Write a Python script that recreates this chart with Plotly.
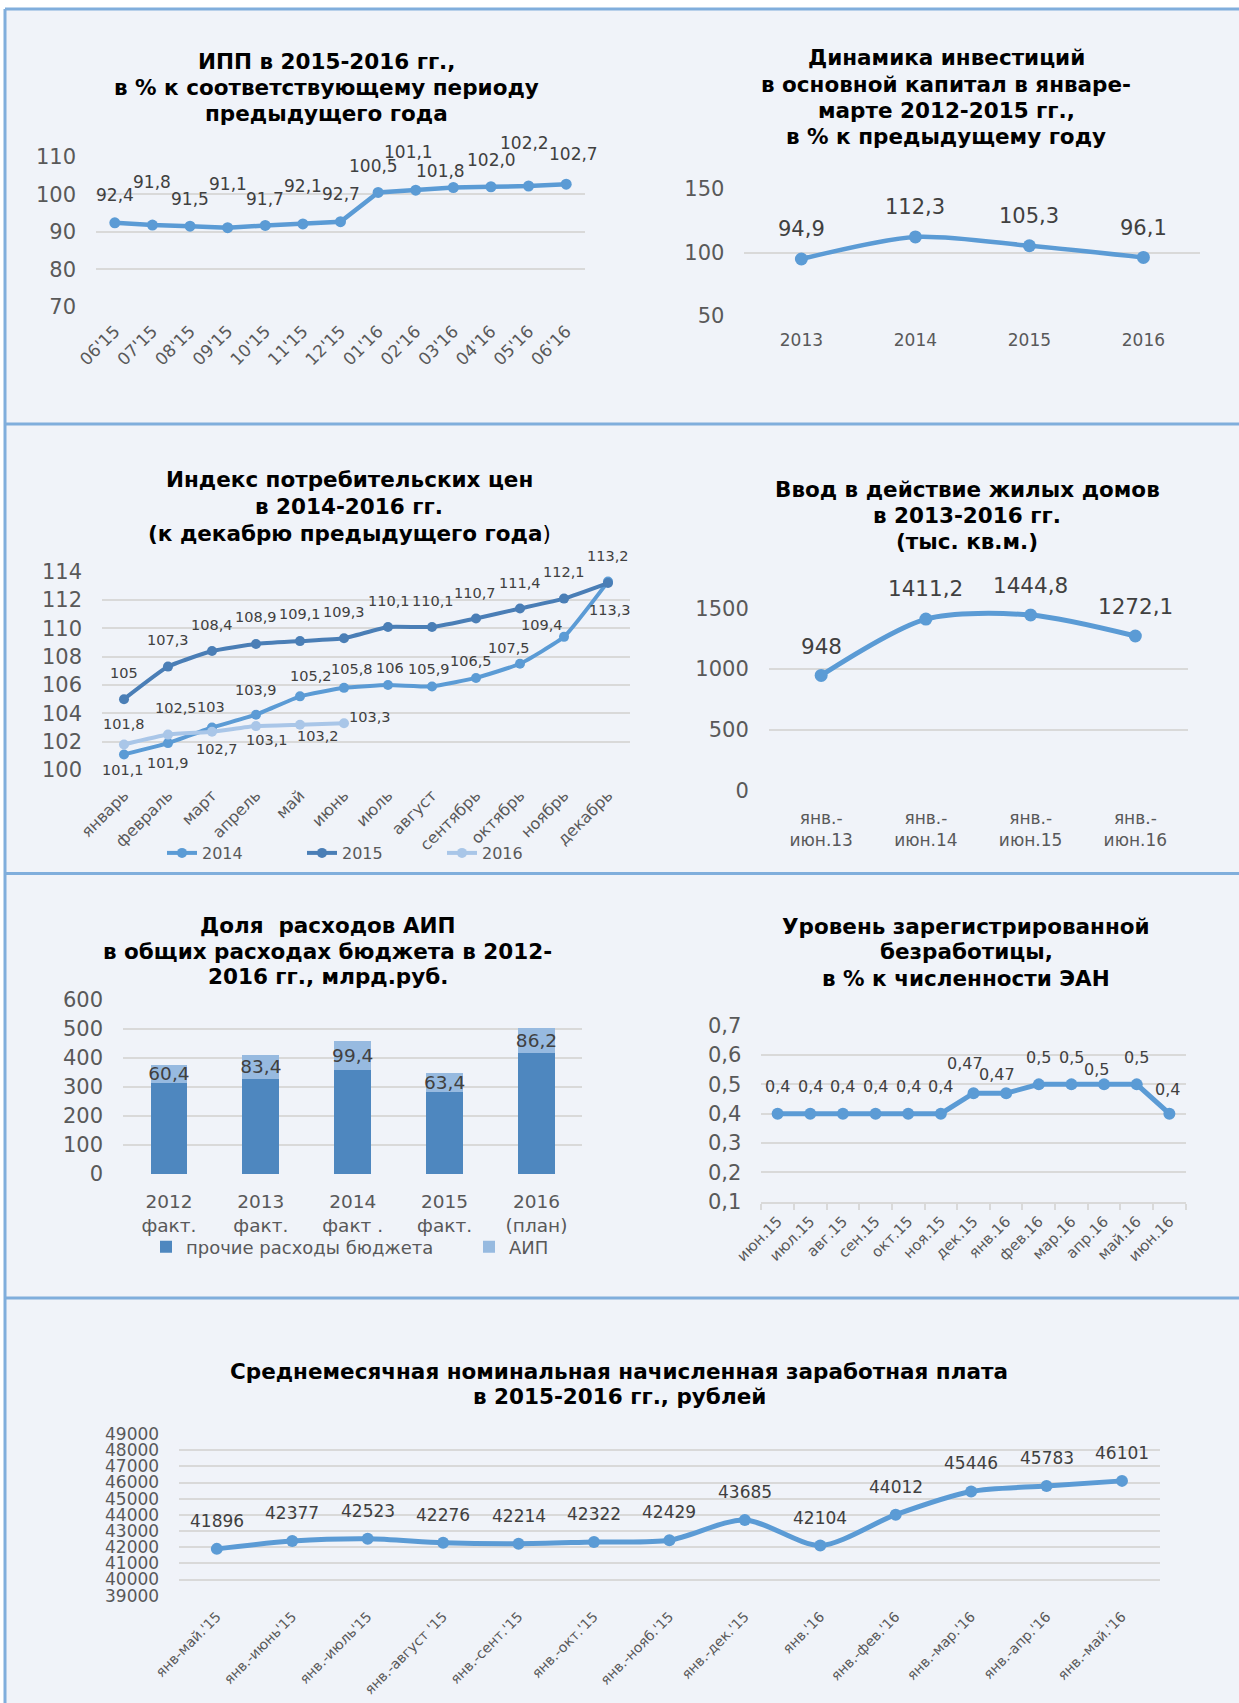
import plotly.graph_objects as go

# ---------------- data ----------------
ipp_periods = ["06'15", "07'15", "08'15", "09'15", "10'15", "11'15", "12'15",
               "01'16", "02'16", "03'16", "04'16", "05'16", "06'16"]
ipp_values = [92.4, 91.8, 91.5, 91.1, 91.7, 92.1, 92.7, 100.5, 101.1, 101.8, 102.0, 102.2, 102.7]

inv_years = ["2013", "2014", "2015", "2016"]
inv_values = [94.9, 112.3, 105.3, 96.1]

cpi_months = ["январь", "февраль", "март", "апрель", "май", "июнь", "июль", "август",
              "сентябрь", "октябрь", "ноябрь", "декабрь"]
cpi_2014 = [101.1, 101.9, 103, 103.9, 105.2, 105.8, 106, 105.9, 106.5, 107.5, 109.4, 113.3]
cpi_2015 = [105, 107.3, 108.4, 108.9, 109.1, 109.3, 110.1, 110.1, 110.7, 111.4, 112.1, 113.2]
cpi_2016 = [101.8, 102.5, 102.7, 103.1, 103.2, 103.3]

house_periods = ["янв.-<br>июн.13", "янв.-<br>июн.14", "янв.-<br>июн.15", "янв.-<br>июн.16"]
house_values = [948, 1411.2, 1444.8, 1272.1]

budget_years = ["2012<br>факт.", "2013<br>факт.", "2014<br>факт .", "2015<br>факт.", "2016<br>(план)"]
budget_other = [315, 328, 359, 284, 418]
budget_aip = [60.4, 83.4, 99.4, 63.4, 86.2]

unemp_months = ["июн.15", "июл.15", "авг.15", "сен.15", "окт.15", "ноя.15", "дек.15",
                "янв.16", "фев.16", "мар.16", "апр.16", "май.16", "июн.16"]
unemp_values = [0.4, 0.4, 0.4, 0.4, 0.4, 0.4, 0.47, 0.47, 0.5, 0.5, 0.5, 0.5, 0.4]

wage_periods = ["янв-май.'15", "янв.-июнь'15", "янв.-июль'15", "янв.-август '15", "янв.-сент.'15",
                "янв.-окт.'15", "янв.-нояб.'15", "янв.-дек.'15", "янв.'16", "янв.-фев.'16",
                "янв.-мар.'16", "янв.-апр.'16", "янв.-май.'16"]
wage_values = [41896, 42377, 42523, 42276, 42214, 42322, 42429, 43685, 42104, 44012, 45446, 45783, 46101]

# ---------------- label offsets (px, style only) ----------------
ipp_dx = [0, 0, 0, 0, 0, 0, 0, -5, -7, -13, 1, -4, 7]
ipp_dy = [28, 43, 27, 44, 26, 38, 28, 26, 38, 17, 27, 43, 30]
inv_dy = [30, 30, 30, 29]
cpi14_dx = [-1, 0, -1, 0, 11, 8, 2, -3, -5, -11, -22, 2]
cpi14_dy = [-16, -20, 21, 25, 20, 19, 17, 17, 17, 16, 12, -28]
cpi15_dx = [0, 0, 0, 0, 0, 0, 1, 1, -1, 0, 0, 0]
cpi15_dy = [26, 27, 26, 27, 27, 26, 26, 26, 25, 26, 27, 27]
cpi16_dx = [0, 8, 5, 11, 18, 26]
cpi16_dy = [21, 27, -17, -14, -11, 6]
house_dy = [29, 31, 30, 30]
unemp_dx = [0, 0, 0, 0, 0, 0, -9, -9, 0, 0, -8, 0, -2]
unemp_dy = [27, 27, 27, 27, 27, 27, 30, 19, 27, 27, 15, 27, 24]
wage_dy = [28] * 13

# ---------------- styling ----------------
W, H = 1239, 1703
FONT = "DejaVu Sans"
BLUE = "#5B9BD5"
BLUE_DARK = "#4A7EB6"
BLUE_LIGHT = "#A9C6E8"
BAR_DARK = "#4E87BF"
BAR_LIGHT = "#97BAE0"
GRID = "#D9D9D9"
TICK = "#595959"
LBL = "#404040"
BG = "#F0F3F9"
BORDER = "#80AEDC"
TITLE_SIZE = 21.5


def px(x):
    return x / W


def py(y):
    return 1 - y / H


def fmt_g(v):
    return ("%g" % v).replace(".", ",")


def fmt_1(v):
    return ("%.1f" % v).replace(".", ",")


fig = go.Figure()
annotations = []


def line_trace(x, y, ax, color, width, msize, shape="linear", smoothing=None, name=None, legend=None):
    kw = dict(shape=shape)
    if smoothing is not None:
        kw["smoothing"] = smoothing
    fig.add_trace(go.Scatter(
        x=x, y=y, xaxis="x" + ax, yaxis="y" + ax, mode="lines+markers",
        line=dict(color=color, width=width, **kw),
        marker=dict(size=msize, color=color),
        name=name, showlegend=legend is not None, legend=legend or "legend",
        hoverinfo="skip"))


def data_labels(ax, values, texts, dxs, dys, size, color=LBL):
    for i, (v, t, dx, dy) in enumerate(zip(values, texts, dxs, dys)):
        annotations.append(dict(
            x=i, y=v, xref="x" + ax, yref="y" + ax, text=t, showarrow=False,
            xshift=dx, yshift=dy, xanchor="center", yanchor="middle",
            font=dict(family=FONT, size=size, color=color)))


def title(lines, cx, ys, size=TITLE_SIZE):
    for line, y in zip(lines, ys):
        annotations.append(dict(
            x=px(cx), y=py(y), xref="paper", yref="paper", text=line, showarrow=False,
            xanchor="center", yanchor="middle",
            font=dict(family=FONT, size=size, color="#000000")))


def cat_x(n, x0, x1, anchor, size, angle=0, standoff=8, **kw):
    d = dict(domain=[px(x0), px(x1)], anchor=anchor, type="category", range=[-0.5, n - 0.5],
             showgrid=False, zeroline=False, showline=False, ticks="", automargin=False,
             tickfont=dict(family=FONT, size=size, color=TICK), tickangle=angle,
             ticklabelstandoff=standoff, fixedrange=True)
    d.update(kw)
    return d


def val_y(y_top, y_bot, lo, hi, dtick, anchor, size=21, standoff=19, **kw):
    d = dict(domain=[py(y_bot), py(y_top)], anchor=anchor, range=[lo, hi], dtick=dtick, tick0=lo,
             showgrid=True, gridcolor=GRID, gridwidth=2, zeroline=False, showline=False, ticks="",
             automargin=False,
             tickfont=dict(family=FONT, size=size, color=TICK), ticklabelstandoff=standoff,
             fixedrange=True)
    d.update(kw)
    return d


# ---- chart 1: ИПП ----
line_trace(ipp_periods, ipp_values, "", BLUE, 4.5, 11)
data_labels("", ipp_values, [fmt_1(v) for v in ipp_values], ipp_dx, ipp_dy, 17)
title(["<b>ИПП в 2015-2016 гг.,</b>", "<b>в % к соответствующему периоду</b>", "<b>предыдущего года</b>"],
      326, [61.7, 87.3, 113.3])

# ---- chart 2: инвестиции ----
line_trace(inv_years, inv_values, "2", BLUE, 4.5, 13, shape="spline", smoothing=0.8)
data_labels("2", inv_values, [fmt_1(v) for v in inv_values], [0] * 4, inv_dy, 21)
title(["<b>Динамика инвестиций</b>", "<b>в основной капитал в январе-</b>",
       "<b>марте 2012-2015 гг.,</b>", "<b>в % к предыдущему году</b>"],
      946, [57.3, 84, 110, 136.7])

# ---- chart 3: ИПЦ ----
line_trace(cpi_months, cpi_2014, "3", BLUE, 4, 10, shape="spline", smoothing=0.4, name="2014", legend="legend")
line_trace(cpi_months, cpi_2015, "3", BLUE_DARK, 4, 10, shape="spline", smoothing=0.4, name="2015", legend="legend")
line_trace(cpi_months[:len(cpi_2016)], cpi_2016, "3", BLUE_LIGHT, 4, 10, shape="spline", smoothing=0.4,
           name="2016", legend="legend")
data_labels("3", cpi_2014, [fmt_g(v) for v in cpi_2014], cpi14_dx, cpi14_dy, 14.5)
data_labels("3", cpi_2015, [fmt_g(v) for v in cpi_2015], cpi15_dx, cpi15_dy, 14.5)
data_labels("3", cpi_2016, [fmt_g(v) for v in cpi_2016], cpi16_dx, cpi16_dy, 14.5)
title(["<b>Индекс потребительских цен</b>", "<b>в 2014-2016 гг.</b>", "<b>(к декабрю предыдущего года</b>)"],
      349, [480, 506.7, 533.3])

# ---- chart 4: жилые дома ----
line_trace(house_periods, house_values, "4", BLUE, 5, 13, shape="spline", smoothing=0.8)
data_labels("4", house_values, [fmt_g(v) for v in house_values], [0] * 4, house_dy, 21.5)
title(["<b>Ввод в действие жилых домов</b>", "<b>в 2013-2016 гг.</b>", "<b>(тыс. кв.м.)</b>"],
      967, [489.3, 515, 541.7])

# ---- chart 5: бюджет ----
fig.add_trace(go.Bar(x=budget_years, y=budget_other, xaxis="x5", yaxis="y5", name="прочие расходы бюджета",
                     marker=dict(color=BAR_DARK, line=dict(width=0)), legend="legend2", hoverinfo="skip"))
fig.add_trace(go.Bar(x=budget_years, y=budget_aip, xaxis="x5", yaxis="y5", name="АИП",
                     marker=dict(color=BAR_LIGHT, line=dict(width=0)), legend="legend2", hoverinfo="skip",
                     text=[fmt_g(v) for v in budget_aip], textposition="inside", insidetextanchor="middle",
                     textangle=0, constraintext="none",
                     textfont=dict(family=FONT, size=18.5, color=LBL)))
title(["<b>Доля\u00a0 расходов АИП</b>", "<b>в общих расходах бюджета в 2012-</b>", "<b>2016 гг., млрд.руб.</b>"],
      327.5, [925, 951.7, 976.7])

# ---- chart 6: безработица ----
line_trace(unemp_months, unemp_values, "6", BLUE, 5, 12)
data_labels("6", unemp_values, [fmt_g(v) for v in unemp_values], unemp_dx, unemp_dy, 16)
title(["<b>Уровень зарегистрированной</b>", "<b>безработицы,</b>", "<b>в % к численности ЭАН</b>"],
      966, [926, 951.7, 978.3])

# ---- chart 7: зарплата ----
line_trace(wage_periods, wage_values, "7", BLUE, 5, 12, shape="spline", smoothing=0.8)
data_labels("7", wage_values, [fmt_g(v) for v in wage_values], [0] * 13, wage_dy, 17)
title(["<b>Среднемесячная номинальная начисленная заработная плата</b>", "<b>в 2015-2016 гг., рублей</b>"],
      619, [1371.7, 1396.7])

# ---------------- frame shapes ----------------
shapes = [
    dict(type="rect", xref="paper", yref="paper", x0=0, x1=1, y0=py(9), y1=1,
         fillcolor="#FFFFFF", line=dict(width=0), layer="below"),
    dict(type="rect", xref="paper", yref="paper", x0=0, x1=px(5), y0=0, y1=1,
         fillcolor="#FFFFFF", line=dict(width=0), layer="below"),
]
for yb in [9, 424, 873.5, 1298]:
    shapes.append(dict(type="line", xref="paper", yref="paper", x0=px(5), x1=1, y0=py(yb), y1=py(yb),
                       line=dict(color=BORDER, width=3), layer="below"))
shapes.append(dict(type="line", xref="paper", yref="paper", x0=px(5), x1=px(5), y0=0, y1=py(9),
                   line=dict(color=BORDER, width=3), layer="below"))

fig.update_layout(
    width=W, height=H, autosize=False,
    margin=dict(l=0, r=0, t=0, b=0, pad=0, autoexpand=False),
    paper_bgcolor=BG, plot_bgcolor="rgba(0,0,0,0)",
    separators=", ", font=dict(family=FONT, color=TICK),
    barmode="stack", bargap=0.6,
    shapes=shapes, annotations=annotations,
    xaxis=cat_x(13, 96, 585, "y", 17, angle=-45, standoff=10),
    yaxis=val_y(156.7, 307, 70, 110, 10, "x"),
    xaxis2=cat_x(4, 744.4, 1200.4, "y2", 17, standoff=12),
    yaxis2=val_y(189, 316, 50, 150, 50, "x2"),
    xaxis3=cat_x(12, 102, 630, "y3", 16, angle=-45, standoff=12),
    yaxis3=val_y(571.7, 770, 100, 114, 2, "x3"),
    xaxis4=cat_x(4, 768.8, 1187.7, "y4", 17, standoff=15),
    yaxis4=val_y(608.3, 790.7, 0, 1500, 500, "x4"),
    xaxis5=cat_x(5, 123, 582.4, "y5", 18.5, standoff=14),
    yaxis5=val_y(1000, 1174, 0, 600, 100, "x5"),
    xaxis6=cat_x(13, 761.3, 1185.7, "y6", 15, angle=-45, standoff=3, showline=True, linecolor=GRID,
                 linewidth=2, ticks="outside", tickson="boundaries", ticklen=6, tickcolor=GRID, tickwidth=2),
    yaxis6=val_y(1025.7, 1201.7, 0.1, 0.7, 0.1, "x6"),
    xaxis7=cat_x(13, 179.1, 1159.7, "y7", 14, angle=-45, standoff=9),
    yaxis7=val_y(1434, 1595.7, 39000, 49000, 1000, "x7", size=17, tickformat="d"),
    legend=dict(orientation="h", x=px(162), y=py(853), xanchor="left", yanchor="middle",
                bgcolor="rgba(0,0,0,0)", font=dict(family=FONT, size=16, color=TICK),
                entrywidth=95, entrywidthmode="pixels", traceorder="normal"),
    legend2=dict(orientation="h", x=px(146), y=py(1247), xanchor="left", yanchor="middle",
                 bgcolor="rgba(0,0,0,0)", font=dict(family=FONT, size=18, color=TICK),
                 entrywidth=278, entrywidthmode="pixels", traceorder="normal"),
)

fig.write_html("out.html", config={"displayModeBar": False},
               post_script="document.body.style.margin='0';document.body.style.overflow='hidden';")
